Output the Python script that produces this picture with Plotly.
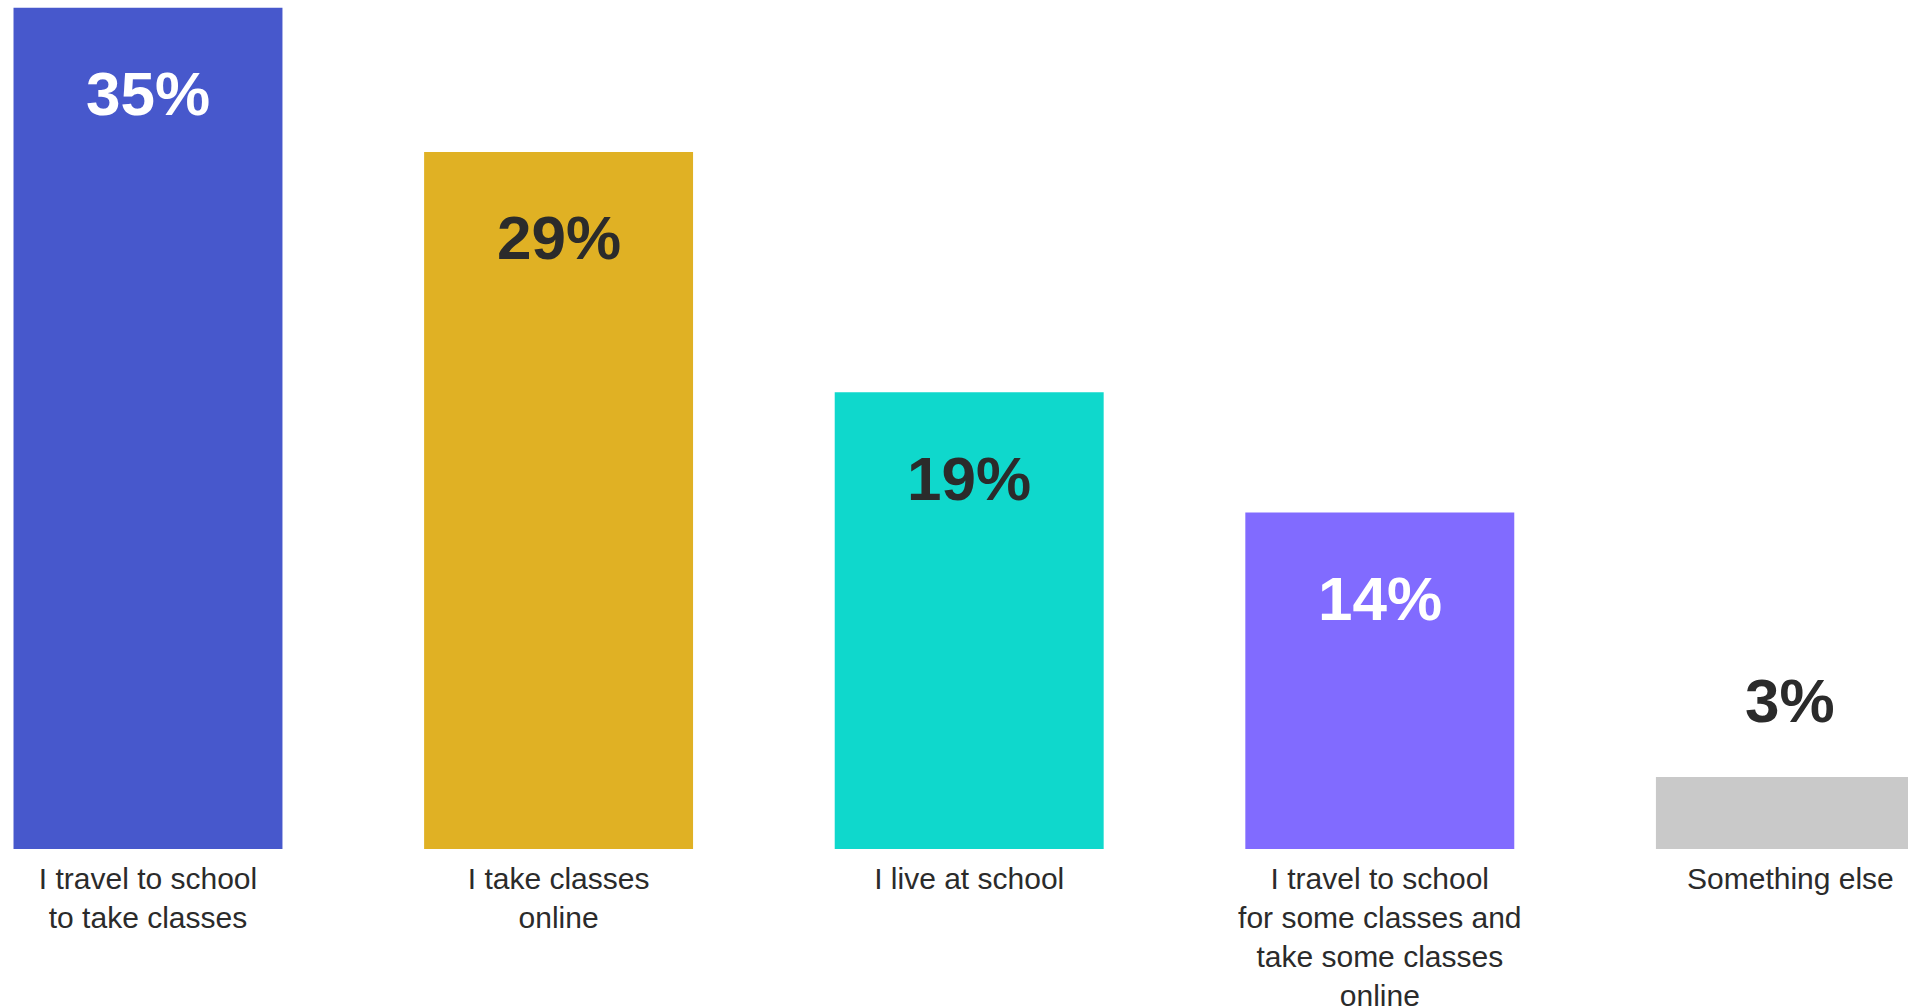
import plotly.graph_objects as go

# Survey responses: how students attend classes
categories = [
    "I travel to school<br>to take classes",
    "I take classes<br>online",
    "I live at school",
    "I travel to school<br>for some classes and<br>take some classes<br>online",
    "Something else",
]
shares = [35, 29, 19, 14, 3]
value_labels = ["35%", "29%", "19%", "14%", "3%"]

bar_colors = ["#4758CC", "#E0B124", "#0FD8CC", "#816BFF", "#C9C9C9"]
label_colors = ["#FFFFFF", "#2B2B2B", "#2B2B2B", "#FFFFFF", "#2B2B2B"]
label_inside = [True, True, True, True, False]

fig = go.Figure(
    go.Bar(
        x=categories,
        y=shares,
        marker=dict(color=bar_colors, line=dict(width=0)),
        width=0.655,
        hoverinfo="skip",
    )
)

# Percentage labels: inside near the top of tall bars, above the short one
for cat, val, txt, col, inside in zip(categories, shares, value_labels, label_colors, label_inside):
    fig.add_annotation(
        x=cat,
        y=val,
        text=f"<b>{txt}</b>",
        showarrow=False,
        xanchor="center",
        yanchor="middle",
        yshift=-86 if inside else 76,
        font=dict(family="Liberation Sans, Arial, sans-serif", size=62, color=col),
    )

fig.update_layout(
    width=1908,
    height=1008,
    margin=dict(l=0, r=0, t=0, b=159),
    paper_bgcolor="white",
    plot_bgcolor="white",
    showlegend=False,
    font=dict(family="Liberation Sans, Arial, sans-serif", color="#2B2B2B"),
    xaxis=dict(
        range=[-0.3604, 4.2864],
        automargin=False,
        showgrid=False,
        zeroline=False,
        showline=False,
        ticks="",
        ticklabelstandoff=9,
        tickfont=dict(size=30, color="#2B2B2B"),
        fixedrange=True,
    ),
    yaxis=dict(
        range=[0, 35.32],
        visible=False,
        automargin=False,
        fixedrange=True,
    ),
)

fig.write_html("out.html", config={"displayModeBar": False})
